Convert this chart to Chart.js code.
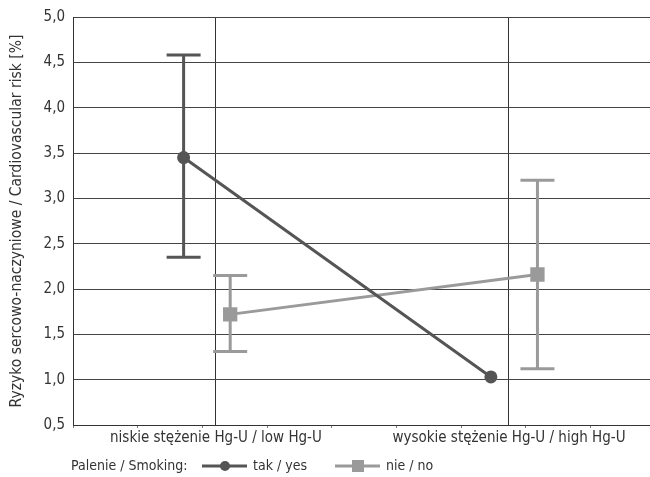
<!DOCTYPE html>
<html lang="pl">
<head>
    <meta charset="UTF-8">
    <title>Ryzyko sercowo-naczyniowe</title>
    <script src="https://cdn.jsdelivr.net/npm/chart.js"></script>
    <style>
        body { margin: 0; background: #fff; overflow: hidden; }
        .chart-box { width: 650px; height: 477px; }
    </style>
</head>
<body>
    <div class="chart-box"><canvas id="riskChart"></canvas></div>

    <script>
        // data
        const categories = ['niskie stężenie Hg-U / low Hg-U', 'wysokie stężenie Hg-U / high Hg-U'];
        const seriesNames = ['tak / yes', 'nie / no'];
        const legendTitle = 'Palenie / Smoking:';
        const yTitle = 'Ryzyko sercowo-naczyniowe / Cardiovascular risk [%]';

        const yesValues = [3.45, 1.03];
        const yesLow = [2.35, null];
        const yesHigh = [4.58, null];

        const noValues = [1.72, 2.16];
        const noLow = [1.31, 1.12];
        const noHigh = [2.15, 3.20];

        // x axis is a plain numeric axis, category lines sit at catPos
        const catPos = [2.21, 6.74];
        const yesX = [1.71, 6.46];
        const noX = [2.43, 7.18];

        const textColor = '#333';
        const font = "'Liberation Sans Narrow', 'DejaVu Sans Condensed', 'Roboto', sans-serif";

        function points(xs, ys) {
            return xs.map((x, i) => ({ x: x, y: ys[i] }));
        }

        const errorBars = {
            id: 'errorBars',
            beforeDatasetsDraw(chart) {
                const ctx = chart.ctx;
                const xs = chart.scales.x, ys = chart.scales.y;
                const sets = [
                    { x: yesX, lo: yesLow, hi: yesHigh, color: '#555' },
                    { x: noX, lo: noLow, hi: noHigh, color: '#9a9a9a' }
                ];
                ctx.save();
                ctx.lineWidth = 3;
                sets.forEach(s => {
                    ctx.strokeStyle = s.color;
                    s.x.forEach((xv, i) => {
                        if (s.lo[i] == null) return;
                        const px = xs.getPixelForValue(xv);
                        const top = ys.getPixelForValue(s.hi[i]);
                        const bot = ys.getPixelForValue(s.lo[i]);
                        ctx.beginPath();
                        ctx.moveTo(px, top); ctx.lineTo(px, bot);
                        ctx.moveTo(px - 17, top); ctx.lineTo(px + 17, top);
                        ctx.moveTo(px - 17, bot); ctx.lineTo(px + 17, bot);
                        ctx.stroke();
                    });
                });
                ctx.restore();
            }
        };

        const bottomLegend = {
            id: 'bottomLegend',
            afterDraw(chart) {
                const ctx = chart.ctx;
                const y = 466;
                ctx.save();
                ctx.font = '14px ' + font;
                ctx.fillStyle = textColor;
                ctx.textBaseline = 'middle';
                ctx.fillText(legendTitle, 71, y);

                const items = [
                    { x: 202, color: '#555', style: 'circle', name: seriesNames[0] },
                    { x: 335, color: '#9a9a9a', style: 'rect', name: seriesNames[1] }
                ];
                items.forEach(it => {
                    ctx.strokeStyle = it.color;
                    ctx.fillStyle = it.color;
                    ctx.lineWidth = 3;
                    ctx.beginPath();
                    ctx.moveTo(it.x, y); ctx.lineTo(it.x + 45, y);
                    ctx.stroke();
                    ctx.beginPath();
                    if (it.style === 'circle') {
                        ctx.arc(it.x + 23, y, 5, 0, Math.PI * 2);
                    } else {
                        ctx.rect(it.x + 17, y - 6, 12, 12);
                    }
                    ctx.fill();
                    ctx.fillStyle = textColor;
                    ctx.fillText(it.name, it.x + 51, y);
                });
                ctx.restore();
            }
        };

        new Chart(document.getElementById('riskChart'), {
            type: 'line',
            data: {
                datasets: [{
                    label: seriesNames[0],
                    data: points(yesX, yesValues),
                    borderColor: '#555',
                    backgroundColor: '#555',
                    borderWidth: 3,
                    pointRadius: 5,
                    pointHoverRadius: 5,
                    pointStyle: 'circle'
                }, {
                    label: seriesNames[1],
                    data: points(noX, noValues),
                    borderColor: '#9a9a9a',
                    backgroundColor: '#9a9a9a',
                    borderWidth: 3,
                    pointRadius: 8,
                    pointHoverRadius: 8,
                    pointStyle: 'rect'
                }]
            },
            options: {
                responsive: true,
                maintainAspectRatio: false,
                animation: false,
                layout: { autoPadding: false, padding: { top: 16, right: 0, left: 0, bottom: 0 } },
                plugins: {
                    legend: { display: false },
                    tooltip: { enabled: false }
                },
                scales: {
                    x: {
                        type: 'linear',
                        min: 0,
                        max: 8.92,
                        afterBuildTicks(scale) {
                            const t = [0, 1, 2, 3, 4, 5, 6, 7, 8].concat(catPos);
                            scale.ticks = t.sort((a, b) => a - b).map(v => ({ value: v }));
                        },
                        afterFit(scale) {
                            scale.height = 52;
                            scale.paddingLeft = 0;
                            scale.paddingRight = 0;
                        },
                        ticks: {
                            autoSkip: false,
                            maxRotation: 0,
                            padding: 1,
                            color: textColor,
                            font: { family: font, size: 15 },
                            callback(value) {
                                const i = catPos.indexOf(value);
                                return i >= 0 ? categories[i] : '';
                            }
                        },
                        grid: {
                            tickLength: 3,
                            color: c => catPos.includes(c.tick && c.tick.value) ? '#333' : 'rgba(0,0,0,0)',
                            tickColor: c => catPos.includes(c.tick && c.tick.value) ? 'rgba(0,0,0,0)' : '#777'
                        },
                        border: { color: '#333', width: 1 }
                    },
                    y: {
                        min: 0.5,
                        max: 5.0,
                        afterFit(scale) { scale.width = 73; },
                        ticks: {
                            stepSize: 0.5,
                            padding: 8,
                            color: textColor,
                            font: { family: font, size: 15 },
                            callback: v => v.toFixed(1).replace('.', ',')
                        },
                        grid: { color: '#444', drawTicks: false },
                        border: { color: '#333', width: 1 },
                        title: {
                            display: true,
                            text: yTitle,
                            color: textColor,
                            font: { family: font, size: 15.5 },
                            padding: { top: 8, bottom: 4 }
                        }
                    }
                }
            },
            plugins: [errorBars, bottomLegend]
        });
    </script>
</body>
</html>
